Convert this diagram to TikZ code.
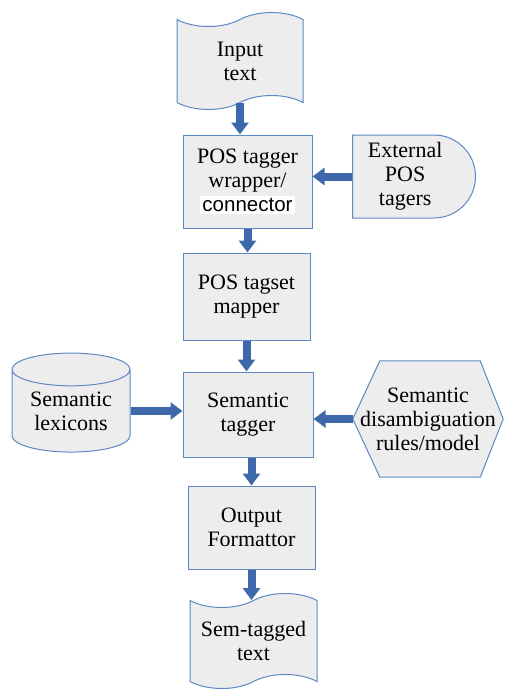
\documentclass[tikz,border=0pt]{standalone}
\usepackage{fontspec}
\setmainfont{Liberation Serif}
\newfontfamily\connfont{Liberation Sans}
\usetikzlibrary{shapes.geometric,shapes.symbols,shapes.misc,arrows.meta,backgrounds}

\definecolor{boxfill}{HTML}{EDEDED}
\definecolor{boxline}{HTML}{5C88C4}
\definecolor{flowblue}{HTML}{3D68AA}

\tikzset{
  unit/.style={draw=boxline,fill=boxfill,line width=1pt,align=center,
    inner sep=0pt,font=\fontsize{22}{24}\selectfont},
  procbox/.style={unit,rectangle},
  tapebox/.style={unit,tape,tape bend height=14pt},
  dbox/.style={unit,rounded rectangle,rounded rectangle left arc=none},
  dbbox/.style={unit,cylinder,shape border rotate=90,aspect=0.4},
  hexbox/.style={rectangle,align=center,inner sep=0pt,font=\fontsize{22}{24}\selectfont},
  hexline/.style={draw=boxline,fill=boxfill,line width=1pt},
  flow/.style={draw=flowblue,line width=8pt,-{Triangle[width=17pt,length=12pt]}}
}

\begin{document}
\begin{tikzpicture}[x=1pt,y=-1pt]
\useasboundingbox (0,0) rectangle (504,693);

\node[tapebox,minimum width=126pt,minimum height=97pt] (input) at (240,61) {Input\\text};
\node[procbox,minimum width=129pt,minimum height=93pt] (wrapper) at (247.5,181.5)
  {POS tagger\\wrapper/\\{\connfont\fontsize{20.5}{24}\selectfont\setlength\fboxsep{2pt}\colorbox{white}{connector}}};
\node[dbox,anchor=west,minimum width=123pt,minimum height=83pt] (external) at (352,176.5) {External\\POS\\tagers};
\node[procbox,minimum width=127pt,minimum height=87pt] (mapper) at (246.5,296.5) {POS tagset\\mapper};
\node[procbox,minimum width=130pt,minimum height=85pt] (tagger) at (248,414.5) {Semantic\\tagger};
\node[dbbox,minimum width=118pt,minimum height=99pt] (lexicons) at (71,411) {Semantic\\lexicons};
\node[hexbox,minimum width=150pt,minimum height=116pt] (rules) at (428,419) {Semantic\\disambiguation\\rules/model};
\node[procbox,minimum width=127pt,minimum height=83pt] (formattor) at (251.5,527.5) {Output\\Formattor};
\node[tapebox,minimum width=127pt,minimum height=95pt] (output) at (253.5,641) {Sem-tagged\\text};

\begin{scope}[on background layer]
  \filldraw[hexline] (rules.west) -- ([xshift=27pt]rules.north west) -- ([xshift=-23pt]rules.north east)
    -- (rules.east) -- ([xshift=-23pt]rules.south east) -- ([xshift=27pt]rules.south west) -- cycle;
\end{scope}

\draw[flow] (input.south) -- (input.south |- wrapper.north);
\draw[flow] (wrapper.south) -- (wrapper.south |- mapper.north);
\draw[flow] (external.west) -- (external.west -| wrapper.east);
\draw[flow] (mapper.south) -- (mapper.south |- tagger.north);
\draw[flow] (lexicons.east) -- (lexicons.east -| tagger.west);
\draw[flow] (rules.west) -- (rules.west -| tagger.east);
\draw[flow] (formattor.north |- tagger.south) -- (formattor.north);
\draw[flow] (formattor.south) -- (formattor.south |- output.north);

\end{tikzpicture}
\end{document}
